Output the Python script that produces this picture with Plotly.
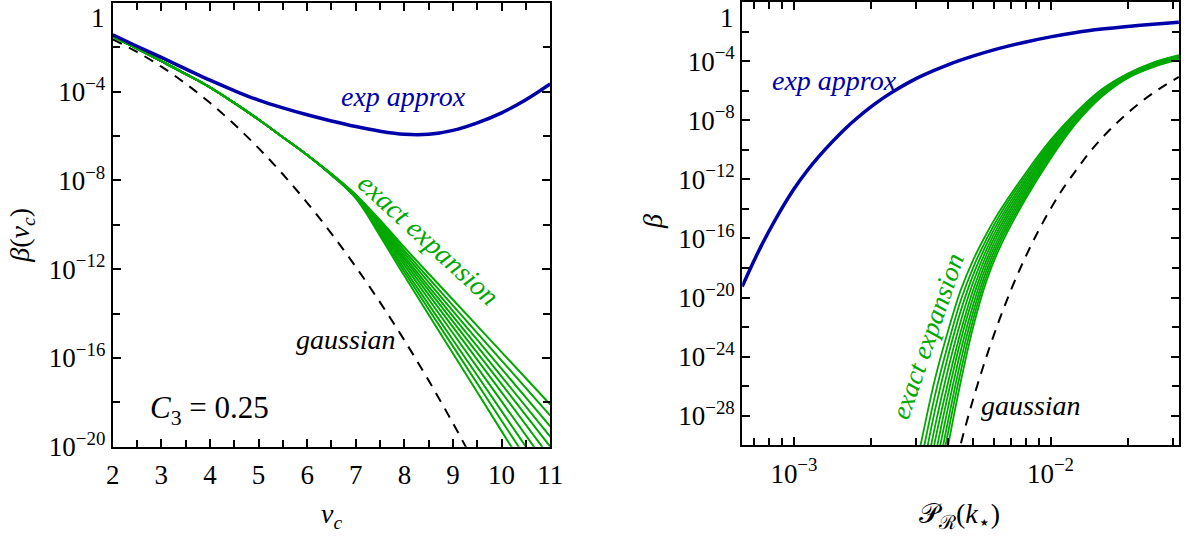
import plotly.graph_objects as go

# ---------------- data (log10 values) ----------------
# Left panel: beta(nu_c), C3 = 0.25
nu_exp = [2, 2.5, 3, 3.5, 4, 4.5, 5, 5.5, 6, 6.5, 7, 7.5, 8, 8.5, 9, 9.5, 10, 10.5, 11]
exp_left_log = [-1.43, -1.95, -2.45, -2.97, -3.48, -3.95, -4.38, -4.73, -5.04, -5.32, -5.57,
                -5.78, -5.92, -5.92, -5.74, -5.40, -4.95, -4.36, -3.65]

nu_gauss = [2, 2.5, 3, 3.5, 4, 4.5, 5, 5.5, 6, 6.5, 7, 7.5, 8, 8.5, 9, 9.5]
gauss_left_log = [-1.643, -2.207, -2.870, -3.633, -4.499, -5.469, -6.543, -7.721, -9.006,
                  -10.396, -11.893, -13.496, -15.206, -17.023, -18.947, -20.98]

nu_green = [2, 2.5, 3, 3.5, 4, 4.5, 5, 5.5, 6, 6.5, 7, 7.5, 8, 9, 10, 11]
green_left_logs = [
    [-1.51, -2.05, -2.62, -3.20, -3.80, -4.50, -5.25, -6.05, -6.85, -7.76, -8.80, -10.50, -12.30, -15.80, -19.30, -22.80],
    [-1.51, -2.05, -2.62, -3.20, -3.80, -4.50, -5.25, -6.05, -6.85, -7.75, -8.78, -10.41, -12.13, -15.48, -18.83, -22.18],
    [-1.51, -2.05, -2.62, -3.20, -3.80, -4.50, -5.25, -6.05, -6.85, -7.74, -8.76, -10.32, -11.98, -15.19, -18.40, -21.61],
    [-1.51, -2.05, -2.62, -3.20, -3.80, -4.50, -5.25, -6.05, -6.85, -7.74, -8.74, -10.23, -11.82, -14.89, -17.96, -21.03],
    [-1.51, -2.05, -2.62, -3.20, -3.80, -4.50, -5.25, -6.05, -6.85, -7.73, -8.72, -10.15, -11.67, -14.61, -17.55, -20.49],
    [-1.51, -2.05, -2.62, -3.20, -3.80, -4.50, -5.25, -6.05, -6.85, -7.73, -8.70, -10.08, -11.54, -14.36, -17.18, -20.00],
    [-1.51, -2.05, -2.62, -3.20, -3.80, -4.50, -5.25, -6.05, -6.85, -7.72, -8.69, -10.01, -11.42, -14.13, -16.84, -19.55],
    [-1.51, -2.05, -2.62, -3.20, -3.80, -4.50, -5.25, -6.05, -6.85, -7.72, -8.67, -9.94, -11.29, -13.89, -16.49, -19.09],
    [-1.51, -2.05, -2.62, -3.20, -3.80, -4.50, -5.25, -6.05, -6.85, -7.71, -8.66, -9.87, -11.16, -13.64, -16.12, -18.60],
    [-1.51, -2.05, -2.62, -3.20, -3.80, -4.50, -5.25, -6.05, -6.85, -7.70, -8.64, -9.79, -11.02, -13.38, -15.74, -18.10],
]

# Right panel: beta vs P_R(k*)  (x given as log10 P)
lp_exp = [-3.2015, -3.15, -3.1, -3.05, -3.0, -2.95, -2.9, -2.85, -2.8, -2.75, -2.7, -2.65, -2.6,
          -2.55, -2.5, -2.4, -2.3, -2.2, -2.1, -2.0, -1.9, -1.8, -1.7, -1.6, -1.5]
exp_right_log = [-19.25, -17.3, -15.6, -14.05, -12.65, -11.45, -10.4, -9.45, -8.57, -7.8, -7.1,
                 -6.47, -5.92, -5.42, -4.98, -4.25, -3.65, -3.14, -2.72, -2.36, -2.06, -1.83,
                 -1.65, -1.5, -1.37]

lp_gauss = [-2.4, -2.35, -2.3, -2.25, -2.2, -2.15, -2.1, -2.05, -2.0, -1.95, -1.9, -1.85,
            -1.8, -1.75, -1.7, -1.65, -1.6, -1.55, -1.5]
gauss_right_log = [-33.4, -29.91, -26.79, -24.01, -21.53, -19.31, -17.34, -15.58, -14.00, -12.59,
                   -11.38, -10.22, -9.21, -8.32, -7.52, -6.80, -6.16, -5.59, -5.07]

lp_green = [-2.55, -2.5, -2.45, -2.4, -2.35, -2.3, -2.25, -2.2, -2.1, -2.0, -1.9, -1.8, -1.7, -1.6, -1.5]
green_right_logs = [
    [-33.6, -29.45, -25.5, -22.3, -19.5, -17.4, -15.70, -14.20, -11.65, -9.35, -7.45, -5.90, -4.85, -4.10, -3.60],
    [-35.0, -30.7, -26.6, -23.2, -20.2, -17.9, -16.06, -14.48, -11.84, -9.49, -7.53, -5.96, -4.88, -4.13, -3.63],
    [-36.5, -31.9, -27.6, -24.0, -20.9, -18.4, -16.41, -14.76, -12.04, -9.63, -7.62, -6.01, -4.92, -4.17, -3.67],
    [-37.9, -33.1, -28.7, -24.9, -21.6, -18.9, -16.77, -15.03, -12.23, -9.77, -7.70, -6.07, -4.95, -4.20, -3.70],
    [-39.3, -34.4, -29.7, -25.8, -22.3, -19.4, -17.12, -15.31, -12.43, -9.91, -7.78, -6.12, -4.98, -4.23, -3.73],
    [-40.8, -35.6, -30.8, -26.6, -22.9, -19.9, -17.48, -15.59, -12.62, -10.04, -7.87, -6.18, -5.02, -4.27, -3.77],
    [-42.2, -36.8, -31.8, -27.5, -23.6, -20.4, -17.83, -15.87, -12.82, -10.18, -7.95, -6.23, -5.05, -4.30, -3.80],
    [-43.6, -38.0, -32.9, -28.4, -24.3, -20.9, -18.19, -16.14, -13.01, -10.32, -8.03, -6.29, -5.08, -4.33, -3.83],
    [-45.1, -39.3, -33.9, -29.2, -25.0, -21.4, -18.54, -16.42, -13.21, -10.46, -8.12, -6.34, -5.12, -4.37, -3.87],
    [-46.5, -40.5, -35.0, -30.1, -25.7, -21.9, -18.90, -16.70, -13.40, -10.60, -8.20, -6.40, -5.15, -4.40, -3.90],
]

# tick definitions
left_x_ticks = [2, 3, 4, 5, 6, 7, 8, 9, 10, 11]
left_x_minor = [2.5, 3.5, 4.5, 5.5, 6.5, 7.5, 8.5, 9.5, 10.5]
left_y_exps = [0, -4, -8, -12, -16, -20]
left_y_minor_exps = [-2, -6, -10, -14, -18]
right_y_exps = [0, -4, -8, -12, -16, -20, -24, -28]
right_y_minor_exps = [-2, -6, -10, -14, -18, -22, -26, -30]
right_x_exps = [-3, -2]
right_x_minor = [7e-4, 8e-4, 9e-4, 2e-3, 3e-3, 4e-3, 5e-3, 6e-3, 7e-3, 8e-3, 9e-3, 2e-2, 3e-2]
top_tick_label = "1"

# ---------------- styling ----------------
FONT = "Liberation Serif, DejaVu Serif, serif"
BLUE = "#0000A8"
GREEN = "#00A800"
W, H = 1194, 544
# the page shows the figure slightly inset/scaled; map target screen pixels to paper fractions
OX, SX, OY, SY = 3.0, 0.995, 9.0, 0.967


def fx(p):
    return (p - OX) / SX / W


def fy(p):
    return 1 - (p - OY) / SY / H


def pow_label(e):
    # the top label "1" sits at the very edge of the page; it is drawn as an annotation below
    return "" if e == 0 else "10<sup>\u2212%d</sup>" % (-e)


fig = go.Figure()

# Left panel
fig.add_trace(go.Scatter(x=nu_gauss, y=[10 ** v for v in gauss_left_log], mode="lines",
                         line=dict(color="black", width=2, dash="10px,8px", shape="spline"),
                         xaxis="x", yaxis="y", showlegend=False))
for ln in green_left_logs:
    fig.add_trace(go.Scatter(x=nu_green, y=[10 ** v for v in ln], mode="lines",
                             line=dict(color=GREEN, width=2, shape="spline"),
                             xaxis="x", yaxis="y", showlegend=False))
fig.add_trace(go.Scatter(x=nu_exp, y=[10 ** v for v in exp_left_log], mode="lines",
                         line=dict(color=BLUE, width=3.5, shape="spline"),
                         xaxis="x", yaxis="y", showlegend=False))

# Right panel
fig.add_trace(go.Scatter(x=[10 ** v for v in lp_gauss], y=[10 ** v for v in gauss_right_log], mode="lines",
                         line=dict(color="black", width=2, dash="10px,8px", shape="spline"),
                         xaxis="x2", yaxis="y2", showlegend=False))
for ln in green_right_logs:
    fig.add_trace(go.Scatter(x=[10 ** v for v in lp_green], y=[10 ** v for v in ln], mode="lines",
                             line=dict(color=GREEN, width=1.8, shape="spline"),
                             xaxis="x2", yaxis="y2", showlegend=False))
fig.add_trace(go.Scatter(x=[10 ** v for v in lp_exp], y=[10 ** v for v in exp_right_log], mode="lines",
                         line=dict(color=BLUE, width=3.5, shape="spline"),
                         xaxis="x2", yaxis="y2", showlegend=False))

axis_common = dict(showline=True, linecolor="black", linewidth=2, mirror="ticks",
                   ticks="inside", ticklen=8, tickwidth=1.5, tickcolor="black",
                   showgrid=False, zeroline=False,
                   tickfont=dict(family=FONT, size=27, color="black"))

fig.update_layout(
    width=W, height=H, autosize=False,
    margin=dict(l=0, r=0, t=0, b=0),
    paper_bgcolor="white", plot_bgcolor="white",
    font=dict(family=FONT, color="black"),
    xaxis=dict(domain=[fx(110), fx(552.7)], range=[2, 11], anchor="y",
               tickvals=left_x_ticks, ticktext=[str(v) for v in left_x_ticks], ticklabelstandoff=3,
               minor=dict(tickvals=left_x_minor, ticks="inside", ticklen=7, tickwidth=1.5, tickcolor="black"),
               **axis_common),
    yaxis=dict(domain=[fy(453), fy(11)], type="log", range=[-20.0005, 0.0005], anchor="x",
               tickvals=[10.0 ** e for e in left_y_exps], ticktext=[pow_label(e) for e in left_y_exps],
               minor=dict(tickvals=[10.0 ** e for e in left_y_minor_exps], ticks="inside", ticklen=7,
                          tickwidth=1.5, tickcolor="black"),
               **axis_common),
    xaxis2=dict(domain=[fx(747), fx(1189)], type="log", range=[-3.2015, -1.4994], anchor="y2",
                tickvals=[10.0 ** e for e in right_x_exps], ticktext=[pow_label(e) for e in right_x_exps],
                ticklabelstandoff=3,
                minor=dict(tickvals=right_x_minor, ticks="inside", ticklen=7, tickwidth=1.5, tickcolor="black"),
                **axis_common),
    yaxis2=dict(domain=[fy(451.7), fy(10)], type="log", range=[-30.0005, 0.0005], anchor="x2",
                tickvals=[10.0 ** e for e in right_y_exps], ticktext=[pow_label(e) for e in right_y_exps],
                minor=dict(tickvals=[10.0 ** e for e in right_y_minor_exps], ticks="inside", ticklen=7,
                           tickwidth=1.5, tickcolor="black"),
                **axis_common),
)

ann = []
lab = dict(family=FONT, size=28)
C = dict(showarrow=False, xanchor="center", yanchor="middle")
# top tick labels "1" (kept fully inside the page)
ann.append(dict(x=fx(104), y=1, xref="paper", yref="paper", text=top_tick_label, showarrow=False,
                xanchor="right", yanchor="top", font=dict(family=FONT, size=27, color="black")))
ann.append(dict(x=fx(741), y=1, xref="paper", yref="paper", text=top_tick_label, showarrow=False,
                xanchor="right", yanchor="top", font=dict(family=FONT, size=27, color="black")))
# curve labels (data coordinates; log axes use log10 units)
ann.append(dict(x=7.98, y=-4.21, xref="x", yref="y", text="<i>exp approx</i>",
                font=dict(lab, color=BLUE), **C))
ann.append(dict(x=8.5, y=-10.65, xref="x", yref="y", text="<i>exact expansion</i>",
                textangle=42.5, font=dict(lab, color=GREEN), **C))
ann.append(dict(x=6.79, y=-15.15, xref="x", yref="y", text="<i>gaussian</i>",
                font=dict(lab, color="black"), **C))
ann.append(dict(x=3.99, y=-18.35, xref="x", yref="y", text="<i>C</i><sub>3</sub> = 0.25",
                font=dict(family=FONT, size=31, color="black"), **C))
ann.append(dict(x=-2.84, y=-5.30, xref="x2", yref="y2", text="<i>exp approx</i>",
                font=dict(lab, color=BLUE), **C))
ann.append(dict(x=-2.478, y=-22.6, xref="x2", yref="y2", text="<i>exact expansion</i>",
                textangle=-71, font=dict(family=FONT, size=27, color=GREEN), **C))
ann.append(dict(x=-2.075, y=-27.3, xref="x2", yref="y2", text="<i>gaussian</i>",
                font=dict(lab, color="black"), **C))
# axis titles (placed at target screen pixels)
ann.append(dict(x=fx(18), y=fy(242), xref="paper", yref="paper",
                text="<i>\u03b2</i>(<i>\u03bd</i><sub><i>c</i></sub>)", textangle=-90,
                font=dict(family=FONT, size=28, color="black"), **C))
ann.append(dict(x=fx(331), y=fy(522), xref="paper", yref="paper",
                text="<i>\u03bd</i><sub><i>c</i></sub>",
                font=dict(family=FONT, size=28, color="black"), **C))
ann.append(dict(x=fx(657), y=fy(229), xref="paper", yref="paper",
                text="<i>\u03b2</i>", textangle=-90,
                font=dict(family=FONT, size=28, color="black"), **C))
ann.append(dict(x=fx(967), y=fy(522), xref="paper", yref="paper",
                text="\U0001D4AB<sub>\u211B</sub>(<i>k</i><sub>\u22C6</sub>)",
                font=dict(family=FONT, size=28, color="black"), **C))
fig.update_layout(annotations=ann)

fig.write_html("out.html")
